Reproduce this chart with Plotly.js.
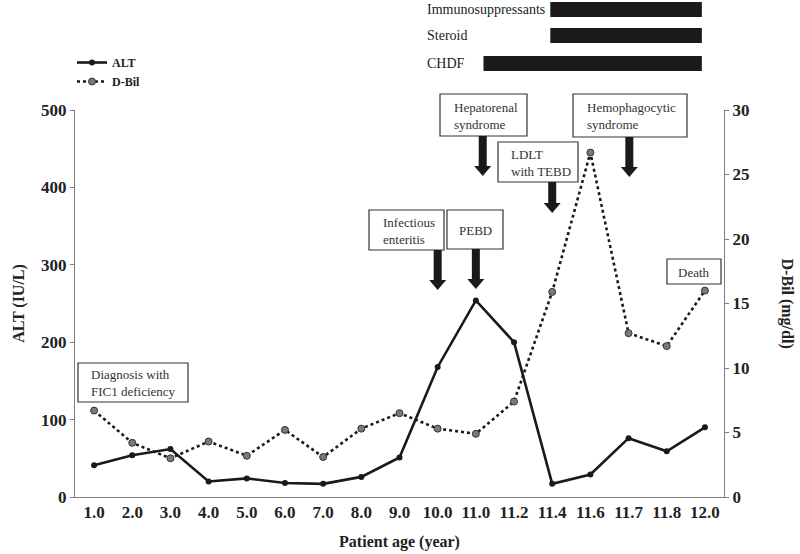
<!DOCTYPE html>
<html>
<head>
<meta charset="utf-8">
<script src="https://cdn.plot.ly/plotly-3.0.1.min.js"></script>
<style>
  html, body { margin: 0; padding: 0; background: #fff; }
  #chart { width: 800px; height: 554px; }
</style>
</head>
<body>
<div id="chart"></div>
<script>
var ages = ['1.0', '2.0', '3.0', '4.0', '5.0', '6.0', '7.0', '8.0', '9.0', '10.0',
            '11.0', '11.2', '11.4', '11.6', '11.7', '11.8', '12.0'];
var alt = [41, 54, 62, 20, 24, 18, 17, 26, 51, 168, 254, 200, 17, 29, 76, 59, 90];
var dbil = [6.7, 4.2, 3.0, 4.3, 3.2, 5.2, 3.1, 5.3, 6.5, 5.3, 4.9, 7.4, 15.9, 26.7, 12.7, 11.7, 16.0];

// treatment periods (category index on the x axis)
var therapies = ['Immunosuppressants', 'Steroid', 'CHDF'];
var therapyStart = [11.95, 11.95, 10.2];
var therapyEnd = [15.92, 15.92, 15.92];

// clinical events: label, category index the arrow points at
var events = ['Diagnosis with<br>FIC1 deficiency', 'Infectious<br>enteritis', 'PEBD',
              'Hepatorenal<br>syndrome', 'LDLT<br>with TEBD', 'Hemophagocytic<br>syndrome', 'Death'];
var eventIdx = [null, 9, 10, 10.18, 12, 14.02, null];

// plot box in pixels
var L = 75, R = 724, T = 110, B = 497;
function X(px) { return (px - L) / (R - L); }
function Y(py) { return (B - py) / (B - T); }
function catPx(i) { return L + (i + 0.5) * (R - L) / ages.length; }

var serif = 'Liberation Serif, Times New Roman, serif';
var ink = '#1a1a1a';

var traceAlt = {
  x: ages, y: alt, name: 'ALT', type: 'scatter', mode: 'lines+markers',
  line: {color: ink, width: 2.6},
  marker: {color: ink, size: 6}
};
var traceDbil = {
  x: ages, y: dbil, name: 'D-Bil', type: 'scatter', mode: 'lines+markers', yaxis: 'y2',
  line: {color: ink, width: 2.6, dash: 'dot'},
  marker: {color: '#7a7a7a', size: 7, line: {color: '#333', width: 1}}
};

var shapes = [];
var annotations = [];

// treatment bars
var rowTop = [2, 28, 56], rowBot = [17, 43, 71];
for (var i = 0; i < therapies.length; i++) {
  shapes.push({type: 'rect', xref: 'x', yref: 'paper',
    x0: therapyStart[i], x1: therapyEnd[i], y0: Y(rowBot[i]), y1: Y(rowTop[i]),
    fillcolor: '#1c1a1a', line: {width: 0}});
  annotations.push({text: therapies[i], xref: 'paper', yref: 'paper',
    x: X(425), y: Y((rowTop[i] + rowBot[i]) / 2), xanchor: 'left', yanchor: 'middle',
    showarrow: false, font: {family: serif, size: 14, color: '#222'}});
}

// event boxes [left, top, right, bottom] and text anchor
var boxes = [[78, 363, 188, 402], [369, 210, 444, 250], [447, 210, 503, 249],
             [440, 94, 527, 136], [498, 142, 578, 182], [573, 94, 687, 137], [667, 259, 721, 284]];
var textLeft = [89, 381, null, 452, 509, 585, null];
for (var j = 0; j < events.length; j++) {
  var b = boxes[j];
  shapes.push({type: 'rect', xref: 'paper', yref: 'paper',
    x0: X(b[0]), x1: X(b[2]), y0: Y(b[3]), y1: Y(b[1]),
    fillcolor: '#fff', line: {color: '#333', width: 1.2}, layer: 'above'});
  var centred = textLeft[j] === null;
  annotations.push({text: events[j], xref: 'paper', yref: 'paper',
    x: centred ? X((b[0] + b[2]) / 2) : X(textLeft[j]), y: Y((b[1] + b[3]) / 2 + 0.5),
    xanchor: centred ? 'center' : 'left', yanchor: 'middle', align: 'left',
    showarrow: false, font: {family: serif, size: 13, color: '#333'}});
  if (eventIdx[j] !== null) {
    var cx = catPx(eventIdx[j]);
    var y0 = b[3], tip = b[3] + 40;
    if (j === 4) tip = b[3] + 31;
    var hw = 4, hh = 8.5, hl = 10;
    var pts = [[cx - hw, y0], [cx + hw, y0], [cx + hw, tip - hl], [cx + hh, tip - hl],
               [cx, tip], [cx - hh, tip - hl], [cx - hw, tip - hl]];
    var d = pts.map(function (p, k) { return (k ? 'L' : 'M') + X(p[0]) + ',' + Y(p[1]); }).join(' ') + ' Z';
    shapes.push({type: 'path', xref: 'paper', yref: 'paper', path: d,
      fillcolor: ink, line: {width: 0}, layer: 'above'});
  }
}

// right axis title reads top to bottom
annotations.push({text: '<b>D-Bil (mg/dl)</b>', xref: 'paper', yref: 'paper',
  x: X(798), y: 0.5, textangle: 90, showarrow: false,
  font: {family: serif, size: 16, color: '#222'}});

var layout = {
  width: 800, height: 554,
  margin: {l: L, r: 800 - R, t: T, b: 554 - B},
  paper_bgcolor: '#fff', plot_bgcolor: '#fff',
  font: {family: serif, color: '#222'},
  showlegend: true,
  legend: {x: X(72), y: Y(48), xanchor: 'left', yanchor: 'top',
    bgcolor: 'rgba(0,0,0,0)', font: {family: serif, size: 12, color: '#222', weight: 'bold'},
    tracegroupgap: 0},
  xaxis: {
    type: 'category', range: [-0.5, 16.5], showgrid: false, zeroline: false,
    showline: true, linecolor: '#808080', linewidth: 1, ticks: '',
    tickfont: {family: serif, size: 17, color: '#222', weight: 'bold'},
    title: {text: '<b>Patient age (year)</b>', font: {family: serif, size: 16, color: '#222'}, standoff: 14}
  },
  yaxis: {
    range: [0, 500], dtick: 100, showgrid: false, zeroline: false,
    showline: true, linecolor: '#808080', linewidth: 1, ticks: 'outside', ticklen: 4, tickcolor: '#808080',
    tickfont: {family: serif, size: 17, color: '#222', weight: 'bold'},
    title: {text: '<b>ALT (IU/L)</b>', font: {family: serif, size: 16, color: '#222'}, standoff: 12}
  },
  yaxis2: {
    overlaying: 'y', side: 'right', range: [0, 30], dtick: 5, showgrid: false, zeroline: false,
    showline: true, linecolor: '#808080', linewidth: 1, ticks: 'outside', ticklen: 4, tickcolor: '#808080',
    tickfont: {family: serif, size: 17, color: '#222', weight: 'bold'}
  },
  shapes: shapes,
  annotations: annotations
};

Plotly.newPlot('chart', [traceAlt, traceDbil], layout, {displayModeBar: false, staticPlot: true});
</script>
</body>
</html>
